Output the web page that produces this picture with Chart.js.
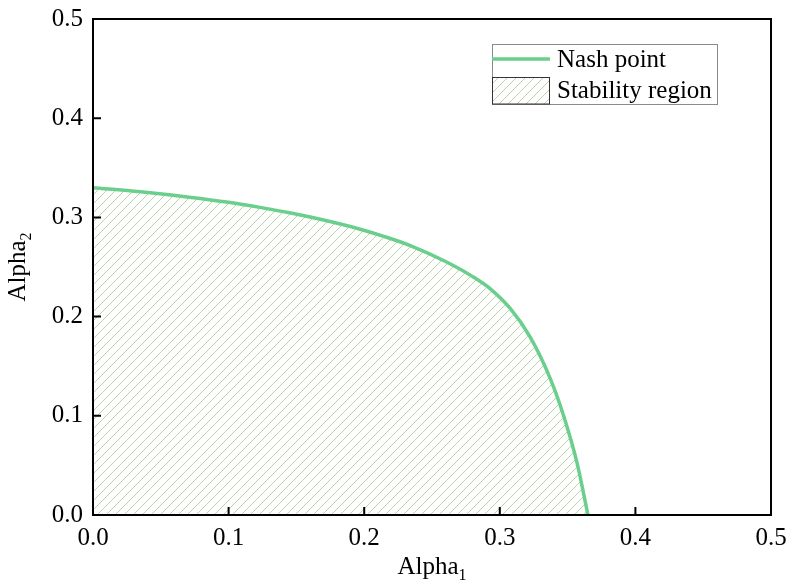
<!DOCTYPE html>
<html>
<head>
<meta charset="utf-8">
<script src="https://cdn.jsdelivr.net/npm/chart.js@4.4.1/dist/chart.umd.min.js"></script>
<style>
  html, body { margin: 0; padding: 0; background: #fff; }
  #wrap { width: 788px; height: 581px; }
</style>
</head>
<body>
<div id="wrap"><canvas id="nashChart" width="788" height="581"></canvas></div>
<script>
// Nash point boundary: alpha1 (x) vs alpha2 (y)
const alpha1 = [0, 0.035, 0.071, 0.1, 0.123, 0.145, 0.17, 0.197, 0.215, 0.234, 0.26, 0.28, 0.293, 0.3075, 0.322, 0.337, 0.347, 0.357, 0.365];
const alpha2 = [0.330, 0.3258, 0.3204, 0.3152, 0.3101, 0.3046, 0.2973, 0.2881, 0.2807, 0.2716, 0.2555, 0.2403, 0.228, 0.2085, 0.1803, 0.1383, 0.1003, 0.0523, 0.000];
const tickValues = [0, 0.1, 0.2, 0.3, 0.4, 0.5];
const seriesNames = ["Nash point", "Stability region"];

const FONT = "'Liberation Serif', 'Times New Roman', serif";
const lineColor = "#6acf8c";
const hatchColor = "#bcd4a8";

// diagonal hatch used for the stability region
function makeHatch() {
  const c = document.createElement("canvas");
  c.width = 9; c.height = 9;
  const g = c.getContext("2d");
  g.strokeStyle = hatchColor;
  g.lineWidth = 1;
  g.beginPath();
  g.moveTo(0, 9); g.lineTo(9, 0);
  g.moveTo(-4.5, 4.5); g.lineTo(4.5, -4.5);
  g.moveTo(4.5, 13.5); g.lineTo(13.5, 4.5);
  g.stroke();
  return g.createPattern(c, "repeat");
}

const points = alpha1.map((x, i) => ({ x: x, y: alpha2[i] }));

// frame, inward ticks, axis titles and legend
const decorations = {
  id: "decorations",
  afterDraw(chart) {
    const ctx = chart.ctx;
    const a = chart.chartArea;
    const xs = chart.scales.x, ys = chart.scales.y;
    ctx.save();
    ctx.strokeStyle = "#000";
    ctx.lineWidth = 2;
    ctx.strokeRect(a.left, a.top, a.right - a.left, a.bottom - a.top);
    ctx.beginPath();
    tickValues.forEach(v => {
      const px = xs.getPixelForValue(v);
      ctx.moveTo(px, a.bottom); ctx.lineTo(px, a.bottom - 8);
      const py = ys.getPixelForValue(v);
      ctx.moveTo(a.left, py); ctx.lineTo(a.left + 8, py);
    });
    ctx.stroke();

    // axis titles with subscripts
    ctx.fillStyle = "#000";
    ctx.textBaseline = "alphabetic";
    function subTitle(main, sub, cx, cy, rot) {
      ctx.save();
      ctx.translate(cx, cy);
      ctx.rotate(rot);
      ctx.font = "25px " + FONT;
      const w1 = ctx.measureText(main).width;
      ctx.font = "16px " + FONT;
      const w2 = ctx.measureText(sub).width;
      const start = -(w1 + w2) / 2;
      ctx.font = "25px " + FONT;
      ctx.textAlign = "left";
      ctx.fillText(main, start, 8);
      ctx.font = "16px " + FONT;
      ctx.fillText(sub, start + w1, 14);
      ctx.restore();
    }
    subTitle("Alpha", "1", (a.left + a.right) / 2, 566, 0);
    subTitle("Alpha", "2", 17, (a.top + a.bottom) / 2, -Math.PI / 2);

    // legend
    const lx = 492, ly = 44, lw = 225, lh = 60;
    ctx.fillStyle = "#fff";
    ctx.fillRect(lx, ly, lw, lh);
    ctx.strokeStyle = "#8a8a8a";
    ctx.lineWidth = 1;
    ctx.strokeRect(lx + 0.5, ly + 0.5, lw, lh);
    ctx.strokeStyle = lineColor;
    ctx.lineWidth = 3.5;
    ctx.beginPath();
    ctx.moveTo(lx, 59); ctx.lineTo(lx + 58, 59);
    ctx.stroke();
    ctx.fillStyle = makeHatch();
    ctx.fillRect(lx, 77, 58, 27);
    ctx.strokeStyle = "#333";
    ctx.lineWidth = 1;
    ctx.strokeRect(lx + 0.5, 77.5, 57, 26.5);
    ctx.fillStyle = "#000";
    ctx.font = "25px " + FONT;
    ctx.textAlign = "left";
    ctx.textBaseline = "middle";
    ctx.fillText(seriesNames[0], 557, 60);
    ctx.fillText(seriesNames[1], 557, 91);
    ctx.restore();
  }
};

const ctx = document.getElementById("nashChart").getContext("2d");
const chart = new Chart(ctx, {
  type: "scatter",
  data: {
    datasets: [{
      label: seriesNames[0],
      data: points,
      showLine: true,
      borderColor: lineColor,
      borderWidth: 3.5,
      backgroundColor: makeHatch(),
      fill: "origin",
      pointRadius: 0,
      cubicInterpolationMode: "monotone"
    }]
  },
  options: {
    responsive: false,
    animation: false,
    layout: { padding: { left: 0, right: 17, top: 19, bottom: 0 } },
    plugins: {
      legend: { display: false },
      tooltip: { enabled: false }
    },
    scales: {
      x: {
        type: "linear",
        min: 0, max: 0.5,
        afterBuildTicks: s => { s.ticks = tickValues.map(v => ({ value: v })); },
        afterFit: s => { s.height = 66; s.paddingLeft = 0; s.paddingRight = 0; },
        grid: { display: false, drawTicks: false },
        border: { display: false },
        ticks: {
          color: "#000",
          font: { family: FONT, size: 25 },
          padding: 8,
          maxRotation: 0,
          callback: v => v.toFixed(1)
        }
      },
      y: {
        type: "linear",
        min: 0, max: 0.5,
        afterBuildTicks: s => { s.ticks = tickValues.map(v => ({ value: v })); },
        afterFit: s => { s.width = 93; s.paddingTop = 0; s.paddingBottom = 0; },
        grid: { display: false, drawTicks: false },
        border: { display: false },
        ticks: {
          color: "#000",
          font: { family: FONT, size: 25 },
          padding: 10,
          callback: v => v.toFixed(1)
        }
      }
    }
  },
  plugins: [decorations]
});
</script>
</body>
</html>
